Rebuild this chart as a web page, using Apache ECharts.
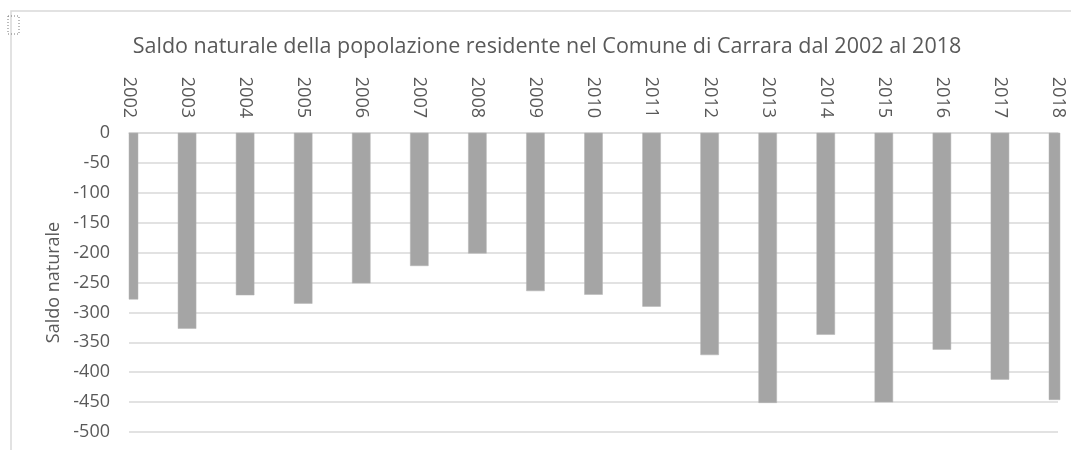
<!DOCTYPE html>
<html>
<head>
<meta charset="utf-8">
<script src="https://cdn.jsdelivr.net/npm/echarts@6/dist/echarts.min.js"></script>
<style>
html,body{margin:0;padding:0;background:#fff;}
#chart{width:1071px;height:450px;}
</style>
</head>
<body>
<div id="chart"></div>
<script>
const titleText = 'Saldo naturale della popolazione residente nel Comune di Carrara dal 2002 al 2018';
const yAxisName = 'Saldo naturale';
const years = ['2002','2003','2004','2005','2006','2007','2008','2009','2010','2011','2012','2013','2014','2015','2016','2017','2018'];
const saldo = [-278, -327, -271, -285, -251, -222, -201, -264, -270, -290, -371, -451, -337, -450, -362, -412, -446];
const yMin = -500;
const yMax = 0;
const yStep = 50;

const FONT = '"Open Sans", sans-serif';
const TXT = '#595959';
const BAR_W = 18;
const chart = echarts.init(document.getElementById('chart'), null, {renderer: 'canvas'});

function renderBar(params, api) {
  const cat = api.value(0);
  const top = api.coord([cat, 0]);
  const bot = api.coord([cat, api.value(1)]);
  const cs = params.coordSys;
  const shape = echarts.graphic.clipRectByRect(
    {x: top[0] - BAR_W / 2, y: top[1], width: BAR_W, height: bot[1] - top[1]},
    {x: cs.x, y: cs.y - 1, width: cs.width + 2, height: cs.height + 2}
  );
  if (!shape) return null;
  return {
    type: 'rect',
    shape: shape,
    style: {fill: '#a5a5a5', stroke: '#b5b5b5', lineWidth: 0.5}
  };
}

chart.setOption({
  backgroundColor: '#ffffff',
  animation: false,
  title: {
    text: titleText,
    left: 542,
    top: 31,
    textAlign: 'center',
    textStyle: {fontFamily: FONT, fontSize: 21.5, fontWeight: 'normal', color: TXT}
  },
  graphic: [
    {type: 'rect', shape: {x: 11, y: 11, width: 1100, height: 500}, style: {fill: 'none', stroke: '#d9d9d9', lineWidth: 1.5}, silent: true},
    {type: 'rect', shape: {x: 8, y: 16, width: 11, height: 18}, style: {fill: 'none', stroke: '#777', lineWidth: 1, lineDash: [1, 2]}, silent: true}
  ],
  grid: {left: 129, right: 13, top: 133, bottom: 18, containLabel: false},
  xAxis: {
    type: 'category',
    data: years,
    position: 'top',
    boundaryGap: false,
    axisLine: {show: true, lineStyle: {color: '#d9d9d9', width: 1.5}},
    axisTick: {show: true, inside: true, length: 4, lineStyle: {color: '#d9d9d9'}},
    axisLabel: {rotate: -90, margin: 15, fontFamily: FONT, fontSize: 18, color: TXT}
  },
  yAxis: {
    type: 'value',
    min: yMin,
    max: yMax,
    interval: yStep,
    name: yAxisName,
    nameLocation: 'middle',
    nameGap: 66,
    nameTextStyle: {fontFamily: FONT, fontSize: 18, color: TXT},
    axisLine: {show: false},
    axisTick: {show: false},
    axisLabel: {margin: 19, fontFamily: FONT, fontSize: 18, color: TXT},
    splitLine: {show: true, lineStyle: {color: '#d9d9d9', width: 1.5}}
  },
  series: [{
    type: 'custom',
    renderItem: renderBar,
    encode: {x: 0, y: 1},
    data: years.map((y, i) => [i, saldo[i]]),
    z: 2
  }]
});
</script>
</body>
</html>
